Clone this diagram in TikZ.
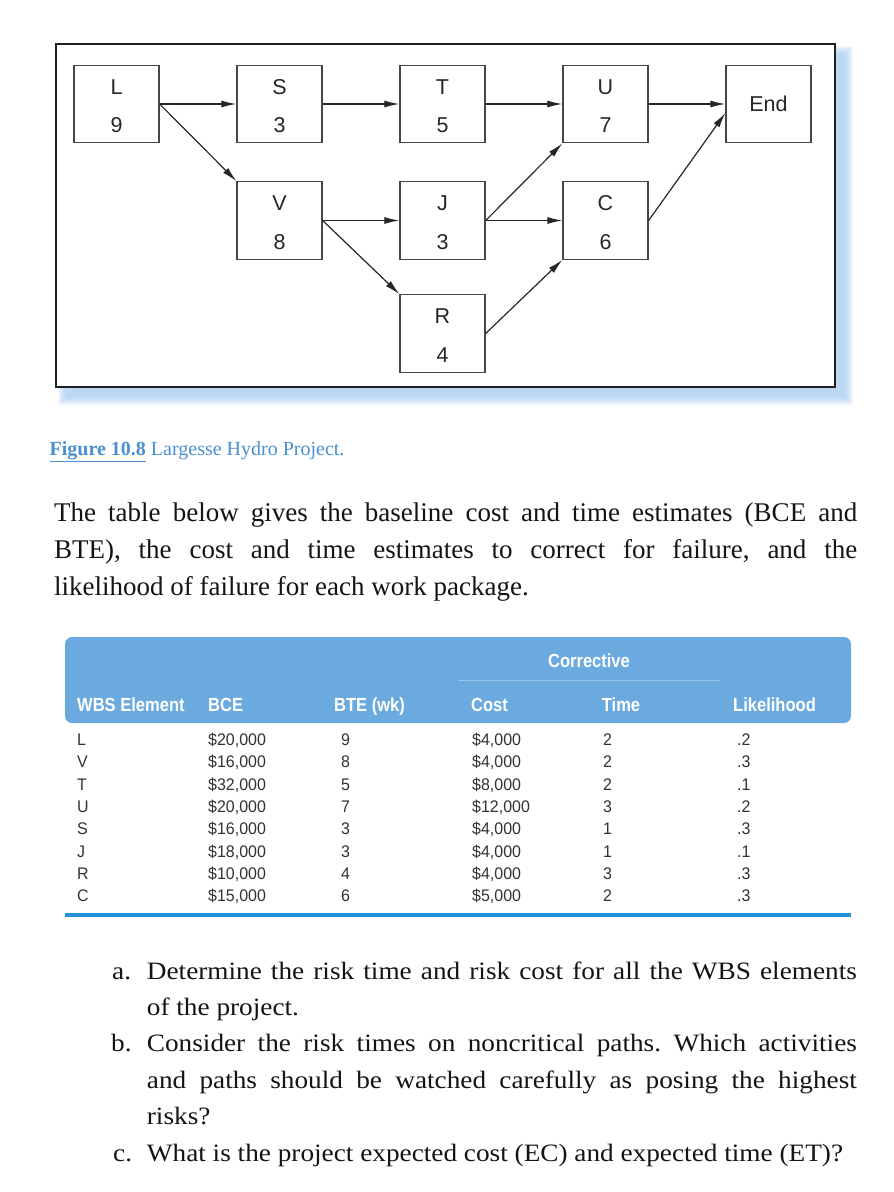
\documentclass[tikz,border=0pt]{standalone}
\usepackage{fontspec}
\setmainfont{Liberation Serif}
\newfontfamily\listfont[FakeStretch=1.09]{Liberation Serif}
\newfontfamily\diafont{Liberation Sans}
\newfontfamily\headfont[FakeStretch=0.87]{Liberation Sans}
\newfontfamily\bodyfont[FakeStretch=0.95]{Liberation Sans}
\usetikzlibrary{arrows.meta}
\definecolor{hdrblue}{RGB}{107,170,222}
\definecolor{rulblue}{RGB}{36,146,214}
\definecolor{capblue}{RGB}{74,144,208}
\definecolor{shadblue}{RGB}{150,195,238}
\definecolor{corrline}{RGB}{150,196,236}
\definecolor{tabtext}{RGB}{50,50,50}
\newcommand\tabrow[8]{%
  \node[tb] (wbs#1) at (77,#2) {#3};
  \node[tb] (bce#1) at (208,#2) {#4};
  \node[tb] (bte#1) at (341,#2) {#5};
  \node[tb] (cc#1) at (472,#2) {#6};
  \node[tb] (ct#1) at (603,#2) {#7};
  \node[tb] (lk#1) at (737,#2) {#8};
}
\begin{document}
\frenchspacing
\begin{tikzpicture}[x=1pt,y=-1pt,
  actbox/.style={draw=black!72, line width=1.3pt, minimum width=85pt, minimum height=77.5pt, inner sep=0pt, fill=white},
  dlab/.style={anchor=base, inner sep=0pt, text=black!85, font=\diafont\fontsize{21.5}{24}\selectfont},
  arr/.style={draw=black!85, line width=1.2pt, -{Latex[length=15pt,width=7pt]}},
  th/.style={anchor=base west, inner sep=0pt, text=white, font=\headfont\bfseries\fontsize{19}{21}\selectfont},
  tb/.style={anchor=base west, inner sep=0pt, text=tabtext, font=\bodyfont\fontsize{16.8}{19}\selectfont},
  para/.style={anchor=base west, inner sep=0pt, text=black!92, font=\fontsize{27}{37}\selectfont},
  lst/.style={anchor=base west, inner sep=0pt, text=black!92, font=\listfont\fontsize{25}{29}\selectfont\frenchspacing}]
\useasboundingbox (0,0) rectangle (894,1192);
\fill[white] (0,0) rectangle (894,1192);
% frame shadow
\foreach \k in {0,...,8} {\fill[shadblue, opacity=0.10] (66-\k,54-\k) rectangle (845+\k,397+\k);}
\draw[line width=2.6pt, draw=black!88, fill=white] (56,44) rectangle (835,387);
% activity boxes
\node[actbox] (L) at (116.5,104) {};
\node[actbox] (S) at (279.5,104) {};
\node[actbox] (T) at (442.5,104) {};
\node[actbox] (U) at (605.5,104) {};
\node[actbox] (End) at (768.5,104) {};
\node[actbox] (V) at (279.5,220.5) {};
\node[actbox] (J) at (442.5,220.5) {};
\node[actbox] (C) at (605.5,220.5) {};
\node[actbox] (R) at (442.5,333.5) {};
\foreach \b/\t/\n in {L/L/9, S/S/3, T/T/5, U/U/7, V/V/8, J/J/3, C/C/6, R/R/4} {
  \node[dlab] (\b-top) at ([yshift=10pt]\b.center) {\t};
  \node[dlab] (\b-bot) at ([yshift=-28.5pt]\b.center) {\n};
}
\node[dlab] (End-lab) at ([yshift=-7.6pt]End.center) {End};
% connectors
\draw[arr] (L.east) -- (S.west);
\draw[arr] (S.east) -- (T.west);
\draw[arr] (T.east) -- (U.west);
\draw[arr] (U.east) -- (End.west);
\draw[arr] (L.east) -- (V.north west);
\draw[arr] (V.east) -- (J.west);
\draw[arr] (V.east) -- (R.north west);
\draw[arr] (J.east) -- (U.south west);
\draw[arr] (J.east) -- (C.west);
\draw[arr] (R.east) -- (C.south west);
\draw[arr] (C.east) -- ([yshift=-9pt]End.west);
% caption
\node[anchor=base west, inner sep=0pt, text=capblue, font=\fontsize{20}{24}\selectfont] (cap) at (49.5,455) {\underline{\textbf{Figure 10.8}} Largesse Hydro Project.};
% paragraph
\node[para] (p1) at (54,521.5) {\makebox[803pt][s]{The table below gives the baseline cost and time estimates (BCE and}};
\node[para] (p2) at (54,558.5) {\makebox[803pt][s]{BTE), the cost and time estimates to correct for failure, and the}};
\node[para] (p3) at (54,595.5) {likelihood of failure for each work package.};
% table header
\fill[hdrblue, rounded corners=7pt] (65,637) rectangle (851,723);
\draw[corrline, line width=0.8pt] (458,680.5) -- (720,680.5);
\node[th, anchor=base] (hcorr) at (589,667) {Corrective};
\node[th] (hwbs) at (77,711) {WBS Element};
\node[th] (hbce) at (208,711) {BCE};
\node[th] (hbte) at (334,711) {BTE (wk)};
\node[th] (hcost) at (471,711) {Cost};
\node[th, anchor=base] (htime) at (621,711) {Time};
\node[th] (hlik) at (733,711) {Likelihood};
% table body
\tabrow{1}{745.5}{L}{\$20,000}{9}{\$4,000}{2}{.2}
\tabrow{2}{767.8}{V}{\$16,000}{8}{\$4,000}{2}{.3}
\tabrow{3}{790.1}{T}{\$32,000}{5}{\$8,000}{2}{.1}
\tabrow{4}{812.4}{U}{\$20,000}{7}{\$12,000}{3}{.2}
\tabrow{5}{834.7}{S}{\$16,000}{3}{\$4,000}{1}{.3}
\tabrow{6}{857.0}{J}{\$18,000}{3}{\$4,000}{1}{.1}
\tabrow{7}{879.3}{R}{\$10,000}{4}{\$4,000}{3}{.3}
\tabrow{8}{901.6}{C}{\$15,000}{6}{\$5,000}{2}{.3}
\draw[rulblue, line width=3.3pt] (65,915) -- (851,915);
% questions
\node[lst] (la) at (112,979) {a.};
\node[lst] (a1) at (146.7,979) {\makebox[710pt][s]{Determine the risk time and risk cost for all the WBS elements}};
\node[lst] (a2) at (146.7,1015.4) {of the project.};
\node[lst] (lb) at (111,1051.8) {b.};
\node[lst] (b1) at (146.7,1051.8) {\makebox[710pt][s]{Consider the risk times on noncritical paths. Which activities}};
\node[lst] (b2) at (146.7,1088.2) {\makebox[710pt][s]{and paths should be watched carefully as posing the highest}};
\node[lst] (b3) at (146.7,1124.6) {risks?};
\node[lst] (lc) at (113,1161) {c.};
\node[lst] (c1) at (146.7,1161) {What is the project expected cost (EC) and expected time (ET)?};
\end{tikzpicture}
\end{document}
